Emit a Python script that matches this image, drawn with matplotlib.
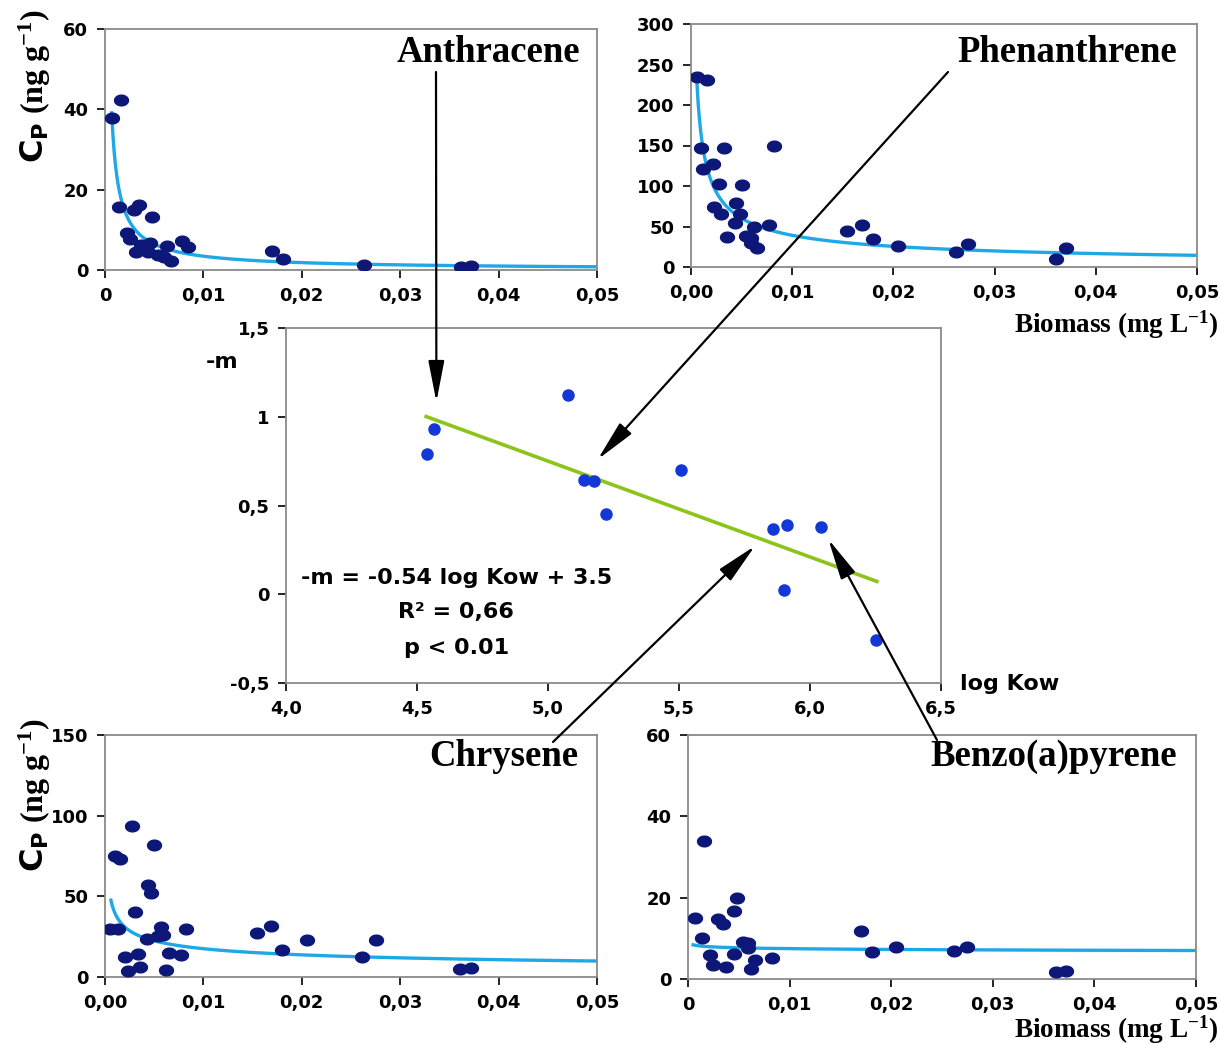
import numpy as np
import matplotlib
matplotlib.use("Agg")
import matplotlib.pyplot as plt
from matplotlib.path import Path
from matplotlib.patches import ConnectionPatch

plt.rcParams['font.family'] = ['DejaVu Sans']
plt.rcParams['font.weight'] = 'bold'
plt.rcParams['mathtext.fontset'] = 'custom'
plt.rcParams['mathtext.rm'] = 'Liberation Serif:bold'
plt.rcParams['mathtext.bf'] = 'Liberation Serif:bold'
plt.rcParams['mathtext.it'] = 'Liberation Serif:bold'
plt.rcParams['mathtext.sf'] = 'DejaVu Sans:bold'

# ---------------- data ----------------
anth_x = [0.00068, 0.0016, 0.0014, 0.0029, 0.0035, 0.0048, 0.0022, 0.0025, 0.0031, 0.0037,
          0.0046, 0.0044, 0.0054, 0.0060, 0.0063, 0.0067, 0.0078, 0.0084, 0.0170, 0.0181,
          0.0263, 0.0362, 0.0372]
anth_y = [37.8, 42.3, 15.7, 14.9, 16.3, 13.1, 9.3, 7.6, 4.4, 6.2,
          6.8, 4.6, 3.7, 3.3, 6.0, 2.3, 7.1, 5.8, 4.7, 2.7,
          1.2, 0.7, 1.1]

phen_x = [0.00057, 0.00155, 0.0010, 0.0033, 0.0012, 0.0022, 0.0028, 0.0050, 0.0023, 0.0030,
          0.0044, 0.0048, 0.0043, 0.0036, 0.0062, 0.0054, 0.0059, 0.0059, 0.0065, 0.0077,
          0.0082, 0.0154, 0.0169, 0.0180, 0.0205, 0.0262, 0.0274, 0.0361, 0.0371]
phen_y = [235, 231, 147, 146.5, 121, 127, 103, 101, 74, 66,
          79, 65, 54, 37, 49, 38, 35.5, 30, 24, 52,
          149, 44.6, 52, 34, 26, 18.6, 29, 9.5, 23]

chry_x = [0.0005, 0.0013, 0.0010, 0.0015, 0.0027, 0.0050, 0.0044, 0.0047, 0.0030, 0.0020,
          0.0034, 0.0023, 0.0036, 0.0043, 0.0054, 0.0057, 0.0059, 0.0065, 0.0077, 0.0062,
          0.0082, 0.0154, 0.0169, 0.0180, 0.0205, 0.0261, 0.0275, 0.0361, 0.0372]
chry_y = [30, 30, 75, 73, 93.5, 82, 57, 52, 40.5, 12.6,
          14.3, 4, 6, 23.6, 25.7, 31, 26, 15, 13.4, 4.1,
          30, 27, 31.4, 16.8, 22.8, 12.4, 23.2, 5.2, 5.8]

bap_x = [0.00066, 0.0016, 0.0014, 0.0030, 0.0034, 0.0022, 0.0025, 0.0037, 0.0045, 0.0048,
         0.0045, 0.0054, 0.0059, 0.0059, 0.0066, 0.0062, 0.0083, 0.0170, 0.0181, 0.0205,
         0.0262, 0.0275, 0.0362, 0.0372]
bap_y = [15.0, 34.0, 10.1, 14.8, 13.5, 6.0, 3.5, 2.9, 16.7, 20.0,
         6.2, 9.1, 8.8, 7.7, 4.6, 2.5, 5.1, 11.7, 6.6, 7.8,
         7.0, 7.9, 1.6, 1.9]

# power fits  Cp = a * biomass^b
fits = {
    'anth': (0.0532, -0.905, 0.00068),
    'phen': (2.25, -0.62, 0.00057),
    'chry': (3.42, -0.355, 0.0006),
    'bap': (6.22, -0.0396, 0.0005),
}

# -m vs log Kow
logkow = [4.539, 4.566, 5.078, 5.138, 5.175, 5.220, 5.508, 5.860, 5.911, 6.041, 5.901, 6.251]
minus_m = [0.790, 0.930, 1.125, 0.643, 0.638, 0.454, 0.700, 0.368, 0.392, 0.381, 0.025, -0.256]
reg_slope, reg_icpt = -0.54, 3.45
reg_range = [4.535, 6.255]

x_ticks = [0, 0.01, 0.02, 0.03, 0.04, 0.05]
x_labels_short = ['0', '0,01', '0,02', '0,03', '0,04', '0,05']
x_labels_long = ['0,00', '0,01', '0,02', '0,03', '0,04', '0,05']
c_xticks = [4.0, 4.5, 5.0, 5.5, 6.0, 6.5]
c_xlabels = ['4,0', '4,5', '5,0', '5,5', '6,0', '6,5']
c_yticks = [-0.5, 0, 0.5, 1, 1.5]
c_ylabels = ['-0,5', '0', '0,5', '1', '1,5']

NAVY = '#0c1778'
CURVE = '#1fa8e6'
BLUE = '#1438d8'
GREEN = '#8cc41c'
SPINE = '#8a8a8a'

W, H = 1220, 1044
fig = plt.figure(figsize=(W / 100, H / 100), dpi=100)

t = np.linspace(0, 2 * np.pi, 60)
ellipse = Path(np.column_stack([1.3 * np.cos(t), np.sin(t)]), closed=True)


def box(px):
    l, tp, r, b = px
    return [l / W, 1 - b / H, (r - l) / W, (b - tp) / H]


def style(ax):
    for s in ax.spines.values():
        s.set_color(SPINE)
        s.set_linewidth(1.3)
    ax.tick_params(direction='out', length=6, width=1.2, color='k', labelsize=13, pad=6)
    for lab in ax.get_xticklabels() + ax.get_yticklabels():
        lab.set_fontweight('bold')


def small_panel(px, xs, ys, fit, yticks, xlabels):
    ax = fig.add_axes(box(px))
    a, b, x0 = fit
    cx = np.linspace(x0, 0.05, 400)
    ax.plot(cx, a * cx ** b, color=CURVE, lw=2.4, zorder=2)
    ax.plot(xs, ys, ls='none', marker=ellipse, ms=10, color=NAVY, zorder=3)
    ax.set_xlim(0, 0.05)
    ax.set_ylim(yticks[0], yticks[-1])
    ax.set_xticks(x_ticks)
    ax.set_xticklabels(xlabels)
    ax.set_yticks(yticks)
    ax.set_yticklabels([str(v) for v in yticks])
    style(ax)
    return ax


small_panel((105, 29, 597, 270), anth_x, anth_y, fits['anth'], [0, 20, 40, 60], x_labels_short)
small_panel((691, 24, 1197, 267), phen_x, phen_y, fits['phen'], [0, 50, 100, 150, 200, 250, 300], x_labels_long)
small_panel((105, 735, 597, 977), chry_x, chry_y, fits['chry'], [0, 50, 100, 150], x_labels_long)
small_panel((688, 735, 1196, 979), bap_x, bap_y, fits['bap'], [0, 20, 40, 60], x_labels_short)

# centre panel
ax_c = fig.add_axes(box((286, 328, 941, 683)))
rx = np.array(reg_range)
ax_c.plot(rx, reg_slope * rx + reg_icpt, color=GREEN, lw=2.6, zorder=2)
ax_c.plot(logkow, minus_m, ls='none', marker='o', ms=8, color=BLUE, zorder=3)
ax_c.set_xlim(4.0, 6.5)
ax_c.set_ylim(-0.5, 1.5)
ax_c.set_xticks(c_xticks)
ax_c.set_xticklabels(c_xlabels)
ax_c.set_yticks(c_yticks)
ax_c.set_yticklabels(c_ylabels)
style(ax_c)

ax_c.text(0.26, 0.295, '-m = -0.54 log Kow + 3.5', transform=ax_c.transAxes,
          ha='center', va='center', fontsize=16, fontweight='bold')
ax_c.text(0.26, 0.2, 'R² = 0,66', transform=ax_c.transAxes,
          ha='center', va='center', fontsize=16, fontweight='bold')
ax_c.text(0.26, 0.1, 'p < 0.01', transform=ax_c.transAxes,
          ha='center', va='center', fontsize=16, fontweight='bold')

fig.text(222 / W, 1 - 362 / H, '-m', ha='center', va='center', fontsize=16, fontweight='bold')
fig.text(960 / W, 1 - 684 / H, 'log Kow', ha='left', va='center', fontsize=16, fontweight='bold')

# compound names
serif = dict(family='Liberation Serif', fontweight='bold', fontsize=26.5)
fig.text(580 / W, 1 - 52 / H, 'Anthracene', ha='right', va='center', **serif)
fig.text(1177 / W, 1 - 52 / H, 'Phenanthrene', ha='right', va='center', **serif)
fig.text(578 / W, 1 - 757 / H, 'Chrysene', ha='right', va='center', **serif)
fig.text(1177 / W, 1 - 757 / H, 'Benzo(a)pyrene', ha='right', va='center', **serif)

# axis labels
ylab = r'$\mathsf{C_P}$ (ng g$^{-1}$)'
fig.text(35 / W, 1 - 86 / H, ylab, rotation=90, ha='center', va='center',
         family='Liberation Serif', fontweight='bold', fontsize=23)
fig.text(35 / W, 1 - 795 / H, ylab, rotation=90, ha='center', va='center',
         family='Liberation Serif', fontweight='bold', fontsize=23)
xlab = r'Biomass (mg L$^{-1}$)'
fig.text(1218 / W, 1 - 325 / H, xlab, ha='right', va='center',
         family='Liberation Serif', fontweight='bold', fontsize=19.5)
fig.text(1218 / W, 1 - 1030 / H, xlab, ha='right', va='center',
         family='Liberation Serif', fontweight='bold', fontsize=19.5)

# arrows from names to the centre plot
arrows = [((436, 72), (4.574, 1.084)),
          ((948, 72), (5.19, 0.76)),
          ((553, 742), (5.79, 0.272)),
          ((937, 740), (6.07, 0.31))]
for tail, head in arrows:
    con = ConnectionPatch(xyA=(tail[0] / W, 1 - tail[1] / H), coordsA='figure fraction',
                          xyB=head, coordsB='data', axesB=ax_c,
                          arrowstyle='-|>,head_length=1.8,head_width=0.35',
                          mutation_scale=14, lw=1.6, color='k', zorder=10)
    fig.add_artist(con)

fig.savefig('out.png', dpi=100)
